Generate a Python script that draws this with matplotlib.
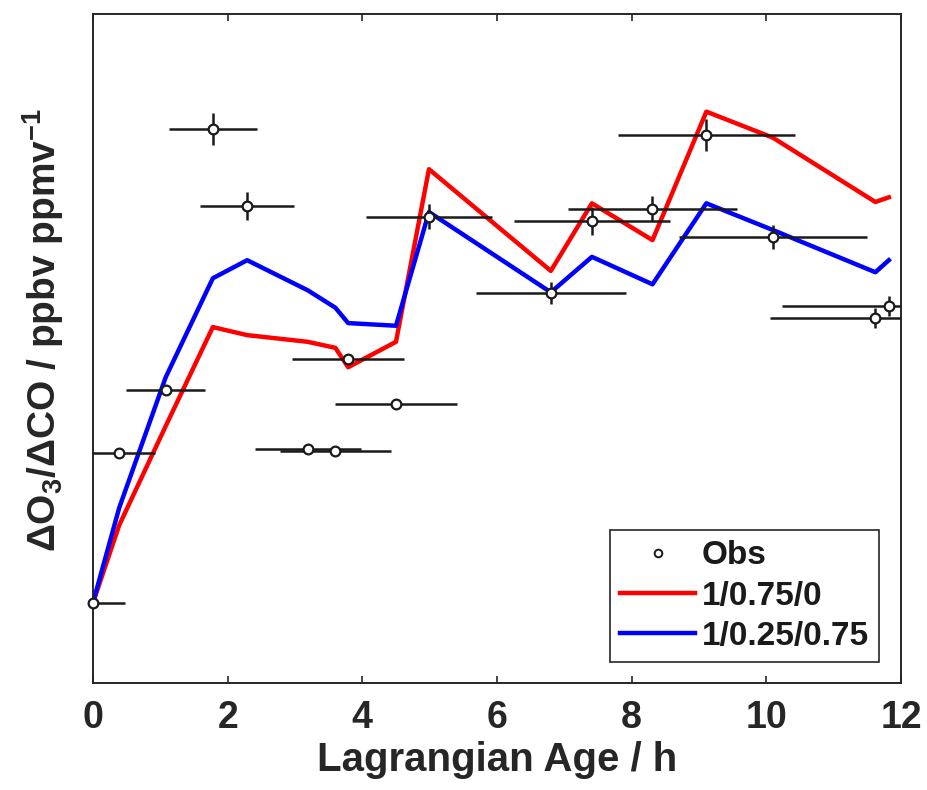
import numpy as np
import matplotlib
matplotlib.use("Agg")
from matplotlib import pyplot as plt

plt.rcParams['font.family'] = ['Liberation Sans', 'DejaVu Sans']
plt.rcParams['font.weight'] = 'bold'
plt.rcParams['mathtext.fontset'] = 'custom'
plt.rcParams['mathtext.rm'] = 'Liberation Sans:bold'
plt.rcParams['mathtext.it'] = 'Liberation Sans:bold'
plt.rcParams['mathtext.bf'] = 'Liberation Sans:bold'

# observations (Lagrangian age in h, ratio in arbitrary units - axis is unlabelled)
obs_age = [0.0, 0.39, 1.08, 1.78, 2.29, 3.19, 3.60, 3.79, 4.50, 4.99,
           6.80, 7.41, 8.31, 9.11, 10.10, 11.62, 11.82]
obs_ratio = [12.0, 34.4, 43.8, 82.8, 71.3, 35.0, 34.7, 48.4, 41.7, 69.7,
             58.3, 69.1, 70.9, 81.9, 66.7, 54.6, 56.4]
obs_age_err = [0.48, 0.53, 0.59, 0.65, 0.70, 0.79, 0.82, 0.83, 0.91, 0.94,
               1.11, 1.16, 1.25, 1.31, 1.40, 1.56, 1.58]
obs_ratio_err = [0.5, 0.5, 0.5, 2.4, 2.1, 0.5, 0.5, 0.7, 0.5, 1.9,
                 1.6, 2.1, 1.9, 2.4, 1.8, 1.5, 1.5]

# model runs
model_red = [12.0, 23.6, 38.4, 53.2, 52.0, 51.0, 50.1, 47.2, 51.0, 76.8,
             61.6, 71.7, 66.2, 85.4, 81.5, 71.9, 72.6]
model_blue = [12.0, 26.2, 45.7, 60.5, 63.2, 58.7, 56.1, 53.8, 53.4, 70.4,
              58.4, 63.7, 59.6, 71.7, 67.7, 61.4, 63.2]

fig = plt.figure(figsize=(9.27, 7.9), dpi=100)
ax = fig.add_axes([0.1003, 0.1354, 0.8716, 0.8469])

ax.plot(obs_age, model_red, color='#ff0000', lw=3.2, label='1/0.75/0', zorder=2)
ax.plot(obs_age, model_blue, color='#0000ff', lw=3.2, label='1/0.25/0.75', zorder=2)

ax.errorbar(obs_age, obs_ratio, xerr=obs_age_err, yerr=obs_ratio_err,
            fmt='none', ecolor='#1a1a1a', elinewidth=1.8, capsize=0, zorder=3)
ax.plot(obs_age, obs_ratio, 'o', ms=7, mfc='white', mec='#1a1a1a', mew=1.6,
        clip_on=False, zorder=4)
ax.plot([], [], 'o', ms=5.5, mfc='white', mec='#1a1a1a', mew=1.4, label='Obs')

ax.set_xlim(0, 12)
ax.set_ylim(0, 100)
ax.set_xticks(np.arange(0, 13, 2))
ax.set_yticks([])
ax.tick_params(axis='x', direction='in', top=True, length=5, width=1.2,
               labelsize=27, pad=12, colors='#262626')
for s in ax.spines.values():
    s.set_linewidth(1.4)
    s.set_color('#262626')

ax.set_xlabel('Lagrangian Age / h', fontsize=29, fontweight='bold', color='#262626', labelpad=4)
ax.set_ylabel(r'ΔO$_3$/ΔCO / ppbv ppmv$^{-1}$', fontsize=28, fontweight='bold',
              color='#262626', va='center')
ax.yaxis.set_label_coords(-0.062, 0.528)

h, l = ax.get_legend_handles_labels()
order = [l.index('Obs'), l.index('1/0.75/0'), l.index('1/0.25/0.75')]
leg = ax.legend([h[i] for i in order], [l[i] for i in order], loc='lower right',
                bbox_to_anchor=(0.9728, 0.0314), borderaxespad=0, fontsize=24,
                handlelength=2.25, handletextpad=0.2, labelspacing=0.28,
                borderpad=0.3, fancybox=False, framealpha=1)
leg.get_frame().set_edgecolor('#262626')
leg.get_frame().set_linewidth(1.2)
for t in leg.get_texts():
    t.set_color('#1a1a1a')

fig.savefig('out.png', dpi=100)
